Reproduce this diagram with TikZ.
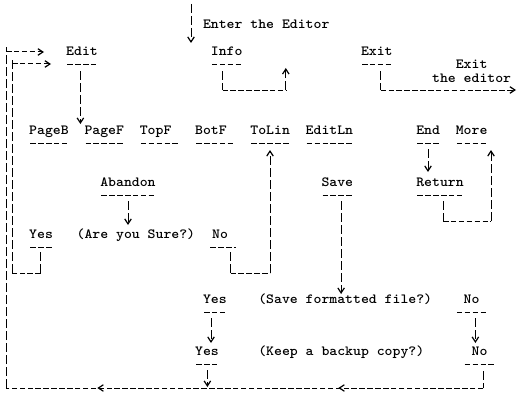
\documentclass[tikz,border=0pt]{standalone}
\usepackage{graphicx}
\usetikzlibrary{arrows.meta,calc,decorations.markings}
\tikzset{
  txt/.style={inner sep=0pt, anchor=base west, font=\fontsize{14}{14}\selectfont\ttfamily\bfseries},
  hl/.style={line width=1pt, dash pattern=on 5.5pt off 2.4pt},
  vl/.style={line width=1pt, dash pattern=on 9pt off 3pt},
  ul/.style={line width=1pt, dash pattern=on 5.5pt off 2.4pt},
  tipv/.tip={Straight Barb[length=5pt,width=6.5pt,line width=1.2pt]},
  arr/.style={-tipv},
}
\newcommand\tw[1]{\scalebox{1.075}[1]{#1}}
\newcommand\ulx[3]{\draw[ul] ($(#1.base west)+(#2+1.2,9)$) -- ($(#1.base west)+(#2+#3*7.9-1.2,9)$);}
\begin{document}
\begin{tikzpicture}[x=1pt,y=-1pt]
\useasboundingbox[fill=white] (0,0) rectangle (519,396);

% texts
\node[txt] (enter) at (202.8,29) {\tw{Enter the Editor}};
\node[txt] (edit) at (66,56) {\tw{Edit}};
\node[txt] (info) at (210.7,56) {\tw{Info}};
\node[txt] (exit) at (360.8,56) {\tw{Exit}};
\node[txt] (exitlbl) at (455.6,68) {\tw{Exit}};
\node[txt] (editorlbl) at (431.9,82) {\tw{the editor}};

\node[txt] (pageb) at (29,134) {\tw{PageB}};
\node[txt] (pagef) at (84.3,134) {\tw{PageF}};
\node[txt] (topf) at (139.6,134) {\tw{TopF}};
\node[txt] (botf) at (194.9,134) {\tw{BotF}};
\node[txt] (tolin) at (250.2,134) {\tw{ToLin}};
\node[txt] (editln) at (305.5,134) {\tw{EditLn}};
\node[txt] (end) at (416.1,134) {\tw{End}};
\node[txt] (more) at (455.6,134) {\tw{More}};

\node[txt] (abandon) at (100.1,186) {\tw{Abandon}};
\node[txt] (save) at (321.3,186) {\tw{Save}};
\node[txt] (return) at (416.1,186) {\tw{Return}};

\node[txt] (yesa) at (29,238) {\tw{Yes}};
\node[txt] (sure) at (76.4,238) {\tw{(Are you Sure?)}};
\node[txt] (noa) at (212,238) {\tw{No}};

\node[txt] (yesb) at (202.8,303) {\tw{Yes}};
\node[txt] (savef) at (258.1,303) {\tw{(Save formatted file?)}};
\node[txt] (nob) at (463.5,303) {\tw{No}};

\node[txt] (yesc) at (194.9,355) {\tw{Yes}};
\node[txt] (keep) at (258.1,355) {\tw{(Keep a backup copy?)}};
\node[txt] (noc) at (471.4,355) {\tw{No}};

% underlines
\ulx{edit}{0}{4}
\ulx{info}{0}{4}
\ulx{exit}{0}{4}
\ulx{pageb}{0}{5}
\ulx{pagef}{0}{5}
\ulx{topf}{0}{5}
\ulx{botf}{0}{5}
\ulx{tolin}{0}{5}
\ulx{editln}{0}{6}
\ulx{end}{0}{3}
\ulx{more}{0}{4}
\ulx{abandon}{0}{7}
\ulx{save}{0}{4}
\ulx{return}{0}{6}
\ulx{yesa}{0}{3}
\ulx{noa}{-3}{3.6}
\ulx{yesb}{0}{3}
\ulx{nob}{-7.9}{4}
\ulx{yesc}{0}{3}
\ulx{noc}{-7.9}{4}

% connector points
\coordinate (t0) at (191,4);
\coordinate (t1) at (191,43);
\coordinate (e0) at (80.4,71);
\coordinate (e1) at (80.4,124);
\coordinate (i0) at (222.5,71);
\coordinate (i1) at (222.5,90);
\coordinate (i2) at (285.8,90);
\coordinate (i3) at (285.8,68);
\coordinate (x0) at (380.6,71);
\coordinate (x1) at (380.6,90);
\coordinate (x2) at (516,90);
\coordinate (a0) at (128,201);
\coordinate (a1) at (128,225);
\coordinate (n0) at (230.5,252);
\coordinate (n1) at (230.5,273);
\coordinate (n2) at (270,273);
\coordinate (n3) at (270,150);
\coordinate (s0) at (341.1,201);
\coordinate (s1) at (341.1,294);
\coordinate (d0) at (428,149);
\coordinate (d1) at (428,172);
\coordinate (r0) at (443,201);
\coordinate (r1) at (443,221);
\coordinate (r2) at (491,221);
\coordinate (r3) at (491,150);
\coordinate (y0) at (211,318);
\coordinate (y1) at (211,343);
\coordinate (o0) at (475.4,318);
\coordinate (o1) at (475.4,343);
\coordinate (k0) at (207.4,370);
\coordinate (k1) at (207.4,387);
\coordinate (b0) at (483.3,371);
\coordinate (b1) at (483.3,388);
\coordinate (b2) at (6,388);
\coordinate (b3) at (6,47);
\coordinate (b3h) at (6,52);
\coordinate (b4) at (44,52);
\coordinate (p0) at (40.8,252);
\coordinate (p1) at (40.8,273);
\coordinate (p2) at (12,273);
\coordinate (p3) at (12,59);
\coordinate (p3h) at (12,64);
\coordinate (p4) at (51,64);

% connectors
\draw[vl,arr] (t0) -- (t1);
\draw[vl,arr] (e0) -- (e1);
\draw[vl] (i0) -- (i1);
\draw[hl] (i1) -- (i2);
\draw[vl,arr] (i2) -- (i3);
\draw[vl] (x0) -- (x1);
\draw[hl,arr] (x1) -- (x2);
\draw[vl,arr] (a0) -- (a1);
\draw[vl] (n0) -- (n1);
\draw[hl] (n1) -- (n2);
\draw[vl,arr] (n2) -- (n3);
\draw[vl,arr] (s0) -- (s1);
\draw[vl,arr] (d0) -- (d1);
\draw[vl] (r0) -- (r1);
\draw[hl] (r1) -- (r2);
\draw[vl,arr] (r2) -- (r3);
\draw[vl,arr] (y0) -- (y1);
\draw[vl,arr] (o0) -- (o1);
\draw[vl,arr] (k0) -- (k1);
\draw[vl] (b0) -- (b1);
\draw[hl,postaction={decorate},
  decoration={markings,
    mark=at position 145pt with {\arrow{tipv}},
    mark=at position 386pt with {\arrow{tipv}}}]
  (b1) -- (b2);
\draw[vl] (b2) -- (b3);
\draw[hl,arr] (b3h) -- (b4);
\draw[vl] (p0) -- (p1);
\draw[hl] (p1) -- (p2);
\draw[vl] (p2) -- (p3);
\draw[hl,arr] (p3h) -- (p4);
\end{tikzpicture}
\end{document}
